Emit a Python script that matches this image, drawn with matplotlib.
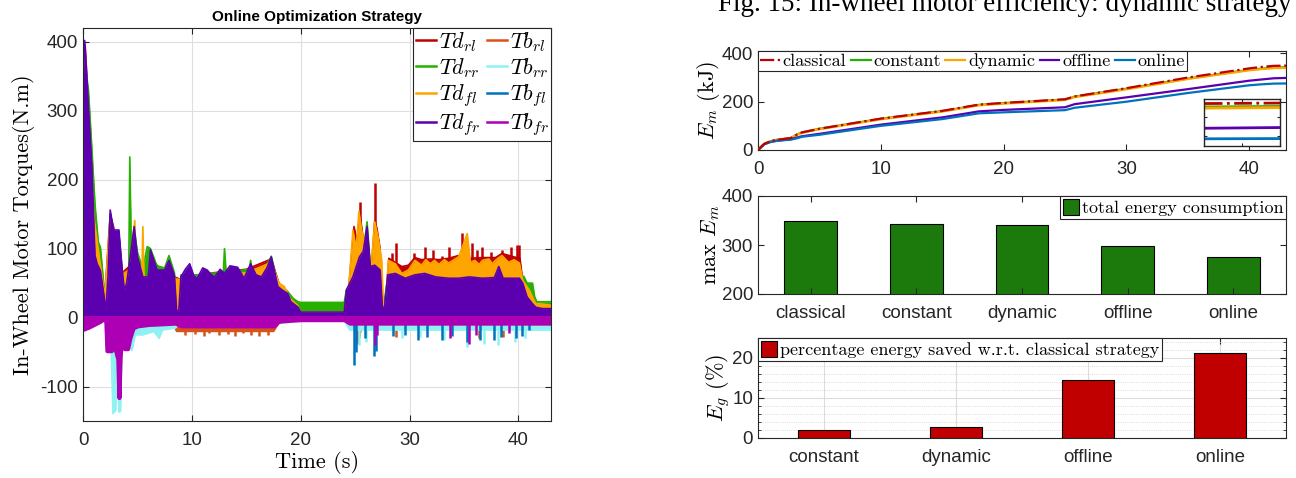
import numpy as np
import matplotlib.pyplot as plt
from matplotlib.lines import Line2D
from matplotlib.ticker import MultipleLocator

plt.rcParams['mathtext.fontset'] = 'cm'
plt.rcParams['font.family'] = 'Liberation Sans'
plt.rcParams['axes.unicode_minus'] = False

# ---- in-wheel torques, (time s, torque N.m) envelope points ----
td_rl = [(0, 320), (0.2, 395), (0.5, 300), (1.0, 150), (2.0, 30), (2.5, 150), (3.0, 120), (3.6, 65),
         (4.3, 75), (4.7, 125), (5.0, 85), (5.5, 60), (6.0, 60), (6.8, 76), (7.5, 65), (9.0, 55),
         (12.0, 65), (15.0, 70), (17.3, 85), (18.0, 50), (18.5, 42), (19.0, 30), (19.7, 18), (20.0, 8),
         (24.0, 8), (24.4, 40), (24.9, 132), (25.2, 110), (25.45, 150), (25.7, 120), (26.1, 100),
         (26.5, 70), (26.8, 140), (27.0, 130), (27.3, 100), (27.55, 15), (27.8, 20), (28.1, 86),
         (29.3, 74), (29.9, 76), (30.5, 87), (31.1, 84), (31.9, 85), (32.7, 84), (33.6, 86),
         (34.5, 90), (35.6, 86), (36.7, 87), (37.9, 87), (38.5, 93), (39.6, 88), (40.15, 86),
         (40.4, 54), (40.8, 40), (41.3, 25), (41.6, 15), (43.0, 12)]
td_rl_spk = [(25.45, 168), (26.8, 195), (28.4, 93), (28.8, 108), (30.4, 93), (31.4, 103), (32.2, 98),
             (33.0, 90), (33.6, 103), (34.8, 122), (35.75, 108), (36.2, 98), (36.7, 103), (37.5, 95),
             (38.5, 98), (39.3, 103), (39.9, 105), (40.1, 105)]
td_rr = [(0, 330), (0.1, 345), (0.3, 355), (0.5, 330), (0.8, 250), (1.1, 165), (1.4, 110), (1.6, 102),
         (1.9, 50), (2.1, 15), (2.3, 60), (2.5, 150), (2.8, 120), (3.3, 120), (3.6, 70), (3.9, 45),
         (4.2, 60), (4.3, 233), (4.45, 90), (4.7, 130), (5.0, 95), (5.5, 70), (5.9, 103), (6.2, 100),
         (6.8, 75), (7.5, 72), (7.9, 90), (8.4, 65), (8.6, 10), (8.8, 10), (9.0, 62), (10.5, 62),
         (12.9, 66), (13.0, 100), (13.15, 66), (15.3, 70), (15.4, 83), (15.55, 66), (16.4, 62),
         (17.3, 89), (17.9, 50), (18.3, 45), (18.8, 38), (19.3, 28), (19.75, 23), (20.0, 22),
         (24.0, 22), (24.2, 40), (24.8, 55), (25.4, 105), (25.75, 95), (26.1, 139), (26.4, 75),
         (26.8, 78), (27.3, 70), (27.6, 15), (28.0, 58), (40.2, 58), (40.5, 60), (40.8, 50),
         (41.3, 50), (41.5, 30), (41.7, 23), (43.0, 23)]
td_fl = [(0, 320), (0.2, 390), (0.5, 295), (1.0, 145), (2.0, 30), (2.5, 145), (3.0, 118), (3.6, 62),
         (4.3, 70), (4.75, 141), (4.85, 100), (5.0, 80), (5.4, 60), (5.5, 132), (5.6, 60), (6.0, 58),
         (7.0, 60), (9.0, 55), (12.0, 60), (15.0, 65), (17.3, 80), (18.0, 50), (18.5, 45), (19.0, 28),
         (19.7, 18), (20.0, 8), (24.0, 8), (24.4, 40), (24.8, 127), (25.1, 100), (25.35, 154),
         (25.6, 127), (26.1, 95), (26.5, 79), (26.8, 139), (27.1, 117), (27.45, 83), (27.6, 15),
         (27.8, 20), (28.06, 83), (28.7, 78), (29.3, 64), (29.9, 69), (30.5, 83), (31.1, 76),
         (31.5, 84), (31.9, 78), (32.3, 83), (32.7, 77), (33.2, 84), (33.6, 79), (34.1, 84),
         (34.5, 88), (34.8, 100), (35.3, 122), (35.6, 80), (36.0, 83), (36.4, 77), (36.7, 83),
         (37.3, 85), (37.6, 78), (37.9, 83), (38.5, 90), (39.1, 80), (39.6, 84), (40.1, 79),
         (40.4, 54), (41.0, 40), (41.6, 20), (42.0, 20), (43.0, 18)]
td_fr = [(0, 330), (0.15, 402), (0.3, 365), (0.5, 305), (0.8, 223), (1.1, 90), (1.3, 78), (1.6, 68),
         (1.9, 35), (2.1, 10), (2.3, 60), (2.5, 156), (2.8, 127), (3.0, 127), (3.3, 127), (3.6, 69),
         (3.8, 40), (4.0, 49), (4.3, 83), (4.7, 132), (5.0, 88), (5.5, 59), (6.0, 59), (6.2, 98),
         (6.8, 69), (7.5, 69), (7.9, 83), (8.4, 61), (8.6, 10), (8.8, 10), (9.0, 59), (9.4, 70),
         (9.8, 78), (10.2, 60), (10.5, 57), (11.0, 72), (11.4, 69), (11.8, 62), (12.1, 59),
         (12.6, 70), (13.0, 64), (13.5, 75), (14.2, 73), (14.8, 57), (15.4, 78), (15.9, 62),
         (16.4, 59), (16.9, 72), (17.3, 88), (17.9, 45), (18.3, 40), (18.8, 35), (19.1, 23),
         (19.75, 15), (20.0, 8), (24.0, 8), (24.2, 40), (24.8, 59), (25.4, 88), (25.75, 96),
         (26.1, 132), (26.4, 74), (26.8, 76), (27.3, 69), (27.5, 15), (27.7, 15), (28.0, 62),
         (28.7, 64), (29.6, 57), (30.5, 62), (31.4, 64), (32.4, 59), (33.6, 57), (34.5, 57),
         (35.5, 59), (36.7, 57), (37.8, 58), (38.2, 74), (38.6, 57), (39.5, 57), (40.1, 57),
         (40.4, 50), (40.8, 30), (41.3, 20), (41.6, 15), (42.2, 13), (43.0, 13)]

tb_rl = [(0, 0), (3.6, 0), (3.8, -20), (4.0, -40), (4.2, -20), (4.5, -10), (5.0, -15), (6.0, -15),
         (8.3, -10), (8.6, -20), (9.0, -20), (17.5, -20), (18.0, -8), (20.0, -3), (24.0, -3),
         (25.0, -10), (25.3, -38), (25.6, -12), (26.0, -10), (43.0, -10)]
tb_rl_spk = [(9.4, -25), (10.3, -24), (11.1, -26), (11.6, -23), (12.5, -25), (13.3, -24), (14.0, -26),
             (14.7, -23), (15.4, -25), (16.2, -26), (17.0, -25), (28.8, -28), (36.4, -30), (38.6, -28),
             (41.2, -18)]
tb_rr = [(0, 0), (2.0, 0), (2.3, -30), (2.6, -50), (2.75, -139), (3.0, -135), (3.15, -60), (3.3, -137),
         (3.45, -136), (3.6, -30), (4.0, -30), (4.3, -40), (4.5, -48), (4.8, -25), (5.5, -25),
         (6.5, -20), (7.0, -30), (7.3, -18), (8.5, -15), (9.0, -5), (18.0, -5), (18.5, -8),
         (20.0, -4), (24.0, -4), (24.5, -18), (43.0, -18)]
tb_rr_spk = [(25.4, -40), (26.0, -35), (29.3, -30), (31.0, -28), (33.2, -32), (35.3, -43), (36.8, -38),
             (38.1, -40), (39.7, -35), (40.6, -30)]
tb_fl = [(0, 0), (24.0, 0), (24.5, -4), (43.0, -4)]
tb_fl_spk = [(2.6, -20), (24.9, -69), (25.05, -50), (25.9, -30), (26.75, -55), (26.9, -48), (28.5, -26),
             (29.6, -25), (30.8, -33), (31.6, -28), (33.0, -32), (33.9, -26), (35.3, -35), (36.5, -33),
             (37.75, -32), (38.4, -28), (39.75, -30), (40.3, -27), (41.0, -18)]
tb_fr = [(0, -17), (0.5, -14), (1.0, -10), (1.5, -6), (1.9, -2), (2.1, -5), (2.2, -48), (2.6, -48),
         (2.75, -40), (3.0, -48), (3.2, -60), (3.3, -116), (3.4, -60), (3.5, -35), (3.7, -40),
         (3.8, -45), (4.1, -45), (4.3, -30), (4.6, -15), (5.0, -12), (6.0, -10), (8.5, -8),
         (9.0, -12), (17.5, -12), (18.0, -5), (20.0, -3), (24.0, -3), (24.5, -8), (43.0, -8)]
tb_fr_spk = [(26.8, -40), (27.0, -25), (33.7, -30), (35.5, -38), (36.1, -25), (39.1, -22)]

# ---- cumulative motor energy (kJ) per strategy ----
t_energy = [0, 0.5, 1.0, 1.5, 2.0, 2.7, 3.2, 3.6, 5.0, 10.0, 15.0, 18.0, 20.0, 25.0, 25.8,
            30.0, 35.0, 40.0, 41.0, 42.0, 43.0]
e_classical = [0, 25, 36, 42, 45, 50, 65, 73, 88, 130, 162, 188, 195, 210, 222, 256, 300, 338, 344, 348.5, 349.5]
e_constant = [0, 25, 36, 42, 45, 50, 65, 73, 88, 129, 161, 187, 194, 209, 221, 254, 296, 332, 337, 341.5, 342.5]
e_dynamic = [0, 25, 36, 42, 45, 50, 64, 71, 86, 127, 159, 185, 192, 207, 219, 251, 294, 330, 335, 339, 340]
e_offline = [0, 24, 33, 38, 41, 45, 52, 57, 67, 105, 135, 160, 166, 177, 190, 218, 252, 287, 292, 297, 298.5]
e_online = [0, 24, 33, 38, 40, 43, 49, 55, 63, 100, 128, 152, 156, 165, 175, 200, 236, 268, 272, 275, 275.5]

strategies = ['classical', 'constant', 'dynamic', 'offline', 'online']
energy_curves = [e_classical, e_constant, e_dynamic, e_offline, e_online]
max_energy = [max(e) for e in energy_curves]
saved_pct = [(max_energy[0] - m) / max_energy[0] * 100 for m in max_energy[1:]]

# ---- colours ----
C_TD_RL, C_TB_RL = '#BF0000', '#D95319'
C_TD_RR, C_TB_RR = '#27B000', '#8FF2F2'
C_TD_FL, C_TB_FL = '#FFA500', '#0072BD'
C_TD_FR, C_TB_FR = '#5C00AF', '#AD00B5'
EDGE = '#262626'

W, H = 1296, 478
fig = plt.figure(figsize=(W / 100, H / 100), dpi=100)


def px_box(l, t, r, b):
    return [l / W, 1 - b / H, (r - l) / W, (b - t) / H]


def style_axes(ax, size=13.5):
    for s in ax.spines.values():
        s.set_color(EDGE)
        s.set_linewidth(0.8)
    ax.tick_params(direction='in', top=True, right=True, length=4, width=0.8,
                   colors=EDGE, labelsize=size, labelcolor=EDGE)
    ax.tick_params(axis='x', pad=8)


def draw_torque(ax, env, color, z, spikes=None, edge=0):
    t, v = np.array(env, dtype=float).T
    ax.fill_between(t, 0, v, color=color, lw=edge, zorder=z)
    ax.plot(t, v, color=color, lw=1.2, zorder=z)
    if spikes:
        st, sv = np.array(spikes, dtype=float).T
        ax.vlines(st, 0, sv, colors=color, lw=1.8, zorder=z)


def frame(lg):
    lg.get_frame().set_edgecolor(EDGE)
    lg.get_frame().set_linewidth(0.8)


# ================= left: torques =================
ax = fig.add_axes(px_box(83, 28, 551, 421))
style_axes(ax)
ax.set_axisbelow(True)
ax.grid(True, color='#dedede', lw=0.8)

draw_torque(ax, td_rl, C_TD_RL, 1.1, td_rl_spk)
draw_torque(ax, td_rr, C_TD_RR, 1.2)
draw_torque(ax, td_fl, C_TD_FL, 1.3)
draw_torque(ax, td_fr, C_TD_FR, 1.4)
draw_torque(ax, tb_rl, C_TB_RL, 1.5, tb_rl_spk)
draw_torque(ax, tb_rr, C_TB_RR, 1.6, tb_rr_spk)
draw_torque(ax, tb_fl, C_TB_FL, 1.7, tb_fl_spk)
draw_torque(ax, tb_fr, C_TB_FR, 1.8, tb_fr_spk, edge=3)

ax.set_xlim(0, 43)
ax.set_ylim(-150, 420)
ax.set_xticks([0, 10, 20, 30, 40])
ax.set_yticks([-100, 0, 100, 200, 300, 400])
ax.set_title('Online Optimization Strategy', fontweight='bold', fontsize=11, pad=5, color='black')
ax.set_xlabel('Time (s)', family='cmr10', fontsize=16, labelpad=1)
ax.set_ylabel('In-Wheel Motor Torques(N.m)', family='cmr10', fontsize=16, labelpad=4)

leg_colors = [C_TD_RL, C_TD_RR, C_TD_FL, C_TD_FR, C_TB_RL, C_TB_RR, C_TB_FL, C_TB_FR]
leg_labels = [r'$Td_{rl}$', r'$Td_{rr}$', r'$Td_{fl}$', r'$Td_{fr}$',
              r'$Tb_{rl}$', r'$Tb_{rr}$', r'$Tb_{fl}$', r'$Tb_{fr}$']
handles = [Line2D([], [], color=c, lw=1.8) for c in leg_colors]
lg = ax.legend(handles, leg_labels, ncol=2, loc='upper right', borderaxespad=0, fontsize=16,
               handlelength=0.9, handletextpad=0.15, columnspacing=0.3, labelspacing=0.1,
               borderpad=0.1, fancybox=False, framealpha=1)
lg.set_zorder(5)
frame(lg)

# ================= right top: cumulative energy =================
e_colors = [C_TD_RL, C_TD_RR, C_TD_FL, C_TD_FR, C_TB_FL]
e_styles = ['-.', '-', '-', '-', '-']
e_order = [1, 2, 3, 4, 0]

ax1 = fig.add_axes(px_box(758, 51, 1286, 150))
style_axes(ax1)
lines = {}
for i in e_order:
    lines[i], = ax1.plot(t_energy, energy_curves[i], color=e_colors[i], ls=e_styles[i], lw=1.6,
                         zorder=3 + (i == 0))
ax1.set_xlim(0, 43)
ax1.set_ylim(0, 410)
ax1.set_xticks([0, 10, 20, 30, 40])
ax1.set_yticks([0, 200, 400])
ax1.set_ylabel(r'$E_m$ (kJ)', family='cmr10', fontsize=16, labelpad=0)
lg1 = ax1.legend([lines[i] for i in range(5)], strategies, ncol=5, loc='upper left',
                 borderaxespad=0, prop={'family': 'cmr10', 'size': 13}, handlelength=1.1,
                 handletextpad=0.15, columnspacing=0.25, borderpad=0.12, fancybox=False,
                 framealpha=1)
frame(lg1)

ins = fig.add_axes(px_box(1204, 99, 1280, 146))
for i in e_order:
    ins.plot(t_energy, energy_curves[i], color=e_colors[i], ls=e_styles[i], lw=2.0)
ins.set_xlim(42.0, 43.0)
ins.set_ylim(260, 358)
ins.set_xticks([42.0, 42.5, 43.0])
ins.set_yticks([280, 300, 320, 340])
ins.tick_params(direction='in', top=True, right=True, length=2.5, width=0.8,
                labelbottom=False, labelleft=False, colors=EDGE)
for s in ins.spines.values():
    s.set_color(EDGE)
    s.set_linewidth(1.0)

# ================= right middle: max energy bars =================
ax2 = fig.add_axes(px_box(758, 196, 1286, 294))
style_axes(ax2)
x5 = np.arange(1, 6)
ax2.bar(x5, max_energy, width=0.5, color='#1C7A0C', edgecolor='black', lw=0.8,
        label='total energy consumption')
ax2.set_xlim(0.5, 5.5)
ax2.set_ylim(200, 400)
ax2.set_yticks([200, 300, 400])
ax2.set_xticks(x5)
ax2.set_xticklabels(strategies)
ax2.set_ylabel(r'max $E_m$', family='cmr10', fontsize=16, labelpad=0)
lg2 = ax2.legend(loc='upper right', borderaxespad=0, prop={'family': 'cmr10', 'size': 13},
                 handlelength=0.9, handleheight=1.0, handletextpad=0.15, borderpad=0.15,
                 fancybox=False, framealpha=1)
frame(lg2)

# ================= right bottom: percentage saved =================
ax3 = fig.add_axes(px_box(758, 338, 1286, 438))
style_axes(ax3)
ax3.set_axisbelow(True)
x4 = np.arange(1, 5)
ax3.bar(x4, saved_pct, width=0.4, color='#C00000', edgecolor='black', lw=0.8,
        label='percentage energy saved w.r.t. classical strategy')
ax3.set_xlim(0.5, 4.5)
ax3.set_ylim(0, 25)
ax3.set_yticks([0, 10, 20])
ax3.yaxis.set_minor_locator(MultipleLocator(2))
ax3.tick_params(which='minor', direction='in', right=True, length=2, colors=EDGE)
ax3.set_xticks(x4)
ax3.set_xticklabels(strategies[1:])
ax3.grid(True, which='major', color='#dcdcdc', lw=0.8)
ax3.grid(True, which='minor', axis='y', color='#d0d0d0', lw=0.6, ls=':')
ax3.set_ylabel(r'$E_g$ (%)', family='cmr10', fontsize=16, labelpad=0)
lg3 = ax3.legend(loc='upper left', borderaxespad=0, prop={'family': 'cmr10', 'size': 13},
                 handlelength=0.9, handleheight=1.0, handletextpad=0.15, borderpad=0.15,
                 fancybox=False, framealpha=1)
frame(lg3)

# caption of the neighbouring figure, clipped at the top edge
fig.text(1292 / W, 1 - 11 / H, 'Fig. 15: In-wheel motor efficiency: dynamic strategy',
         ha='right', va='baseline', fontsize=19.5, family='Liberation Serif')

fig.savefig('out.png', dpi=100)
